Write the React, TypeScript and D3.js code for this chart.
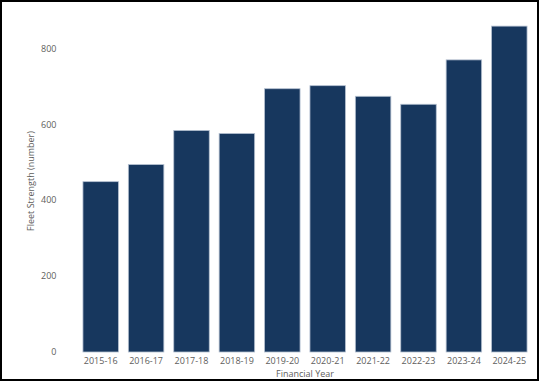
import React from "react";
import * as d3 from "d3";

const categories = ["2015-16", "2016-17", "2017-18", "2018-19", "2019-20", "2020-21", "2021-22", "2022-23", "2023-24", "2024-25"];
const values = [449, 494, 584, 576, 694, 702, 674, 653, 770, 859];
const yTicks = [0, 200, 400, 600, 800];

const W = 539;
const H = 382;
const margin = { left: 78, right: 7, top: 20, bottom: 30 };

export default function App() {
  const x = d3
    .scaleBand<string>()
    .domain(categories)
    .range([margin.left, W - margin.right])
    .paddingInner(0.218)
    .paddingOuter(0.109);
  const y = d3.scaleLinear().domain([0, 800]).range([352, 48.5]);
  const font = "'Open Sans', 'Noto Sans', sans-serif";

  return (
    <div style={{ position: "absolute", left: 0, top: 0 }}>
      <svg width={W} height={H} style={{ display: "block" }}>
        <rect x={0} y={0} width={W} height={H} fill="#fff" />
        {values.map((v, i) => (
          <rect
            key={categories[i]}
            x={x(categories[i])!}
            y={y(v)}
            width={x.bandwidth()}
            height={y(0) - y(v)}
            fill="#17375E"
            stroke="#b4c0d0"
            strokeWidth={0.8}
          />
        ))}
        {yTicks.map((t) => (
          <text
            key={t}
            x={56.5}
            y={y(t)}
            dy="0.35em"
            textAnchor="end"
            fontFamily={font}
            fontSize={9}
            fill="#605e5c"
          >
            {t}
          </text>
        ))}
        {categories.map((c) => (
          <text
            key={c}
            x={x(c)! + x.bandwidth() / 2}
            y={361}
            dy="0.35em"
            textAnchor="middle"
            fontFamily={font}
            fontSize={9}
            fill="#605e5c"
          >
            {c}
          </text>
        ))}
        <text
          x={305}
          y={373.5}
          dy="0.35em"
          textAnchor="middle"
          fontFamily={font}
          fontSize={9}
          fill="#605e5c"
        >
          Financial Year
        </text>
        <text
          transform={`translate(30.5,181) rotate(-90)`}
          dy="0.35em"
          textAnchor="middle"
          fontFamily={font}
          fontSize={9}
          fill="#605e5c"
        >
          Fleet Strength (number)
        </text>
        <rect x={1} y={1} width={537} height={379} fill="none" stroke="#000" strokeWidth={2} />
      </svg>
    </div>
  );
}
